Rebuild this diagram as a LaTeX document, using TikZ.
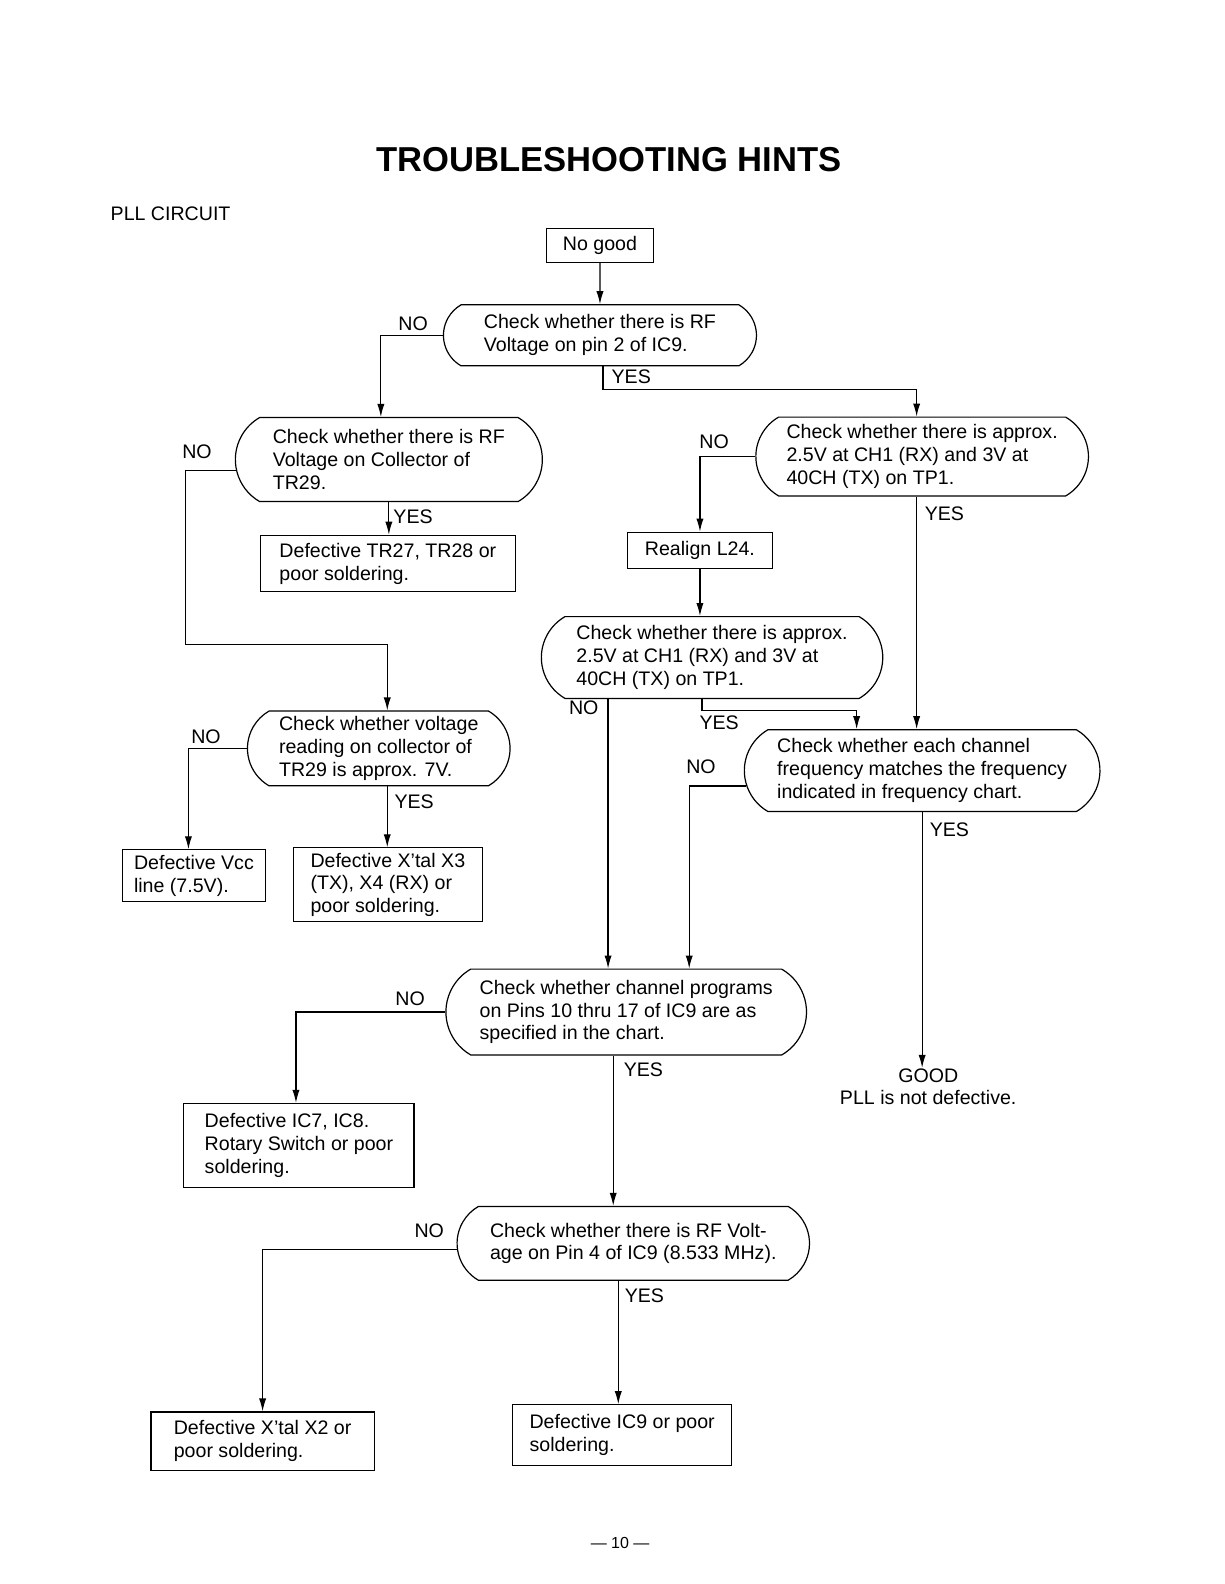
\documentclass[tikz,border=0pt]{standalone}
\usepackage{fontspec}
\setmainfont{Liberation Sans}
\usetikzlibrary{shapes.misc,arrows.meta,positioning}

\tikzset{
  check/.style={draw, rounded rectangle, rounded rectangle arc length=120, align=left, inner sep=2pt, font=\fontsize{9.8}{11.4}\selectfont},
  result/.style={draw, rectangle, align=left, inner sep=2pt, font=\fontsize{9.8}{11.4}\selectfont},
  flow/.style={-{Latex[length=6.5pt,width=3.6pt]}},
  lbl/.style={font=\fontsize{9.8}{11.4}\selectfont, inner sep=0pt}
}

\begin{document}
\begin{tikzpicture}[x=0.505pt, y=-0.505pt, line width=0.6pt]
    \useasboundingbox (0,0) rectangle (1212,1568.3);
    \node (title) at (603,158) {\fontsize{17.3}{20}\selectfont\bfseries TROUBLESHOOTING HINTS};
    \node[lbl, anchor=west] (sub) at (109,212) {PLL CIRCUIT};

    % Top
    \node[result, minimum width=53.5pt, minimum height=17pt] (nogood) at (594,243) {No good};
    \node[check, minimum width=160.5pt, minimum height=30.5pt] (rfic) at (594,332) {Check whether there is RF\\Voltage on pin 2 of IC9.};
    \draw[flow] (nogood) -- (rfic);

    % Left branch
    \node[check, minimum width=157.5pt, minimum height=42pt] (rfcol) at (385,455) {Check whether there is RF\\Voltage on Collector of\\TR29.};
    \node[result, minimum width=127.3pt, minimum height=28.3pt] (trbad) at (384,558) {Defective TR27, TR28 or\\poor soldering.};
    \node[check, minimum width=135.3pt, minimum height=37.4pt] (volt) at (375,741) {Check whether voltage\\reading on collector of\\TR29 is approx. 7V.};
    \node[result, minimum width=71.2pt, minimum height=25.8pt] (vccbad) at (192,867) {Defective Vcc\\line (7.5V).};
    \node[result, minimum width=94.4pt, minimum height=36.9pt] (xtal) at (384,876) {Defective X'tal X3\\(TX), X4 (RX) or\\poor soldering.};

    % Right branch
    \node[check, minimum width=170.3pt, minimum height=39.4pt] (tpone) at (913,452) {Check whether there is approx.\\2.5V at CH1 (RX) and 3V at\\40CH (TX) on TP1.};
    \node[result, minimum width=72.2pt, minimum height=18.2pt] (realign) at (693,545) {Realign L24.};
    \node[check, minimum width=174.7pt, minimum height=40.9pt] (tptwo) at (705,651) {Check whether there is approx.\\2.5V at CH1 (RX) and 3V at\\40CH (TX) on TP1.};
    \node[check, minimum width=181.8pt, minimum height=40.9pt] (freq) at (913,763) {Check whether each channel\\frequency matches the frequency\\indicated in frequency chart.};
    \node[lbl, align=center] (good) at (919,1076) {GOOD\\PLL is not defective.};

    % Bottom
    \node[check, minimum width=184.3pt, minimum height=42.9pt] (chan) at (620,1002) {Check whether channel programs\\on Pins 10 thru 17 of IC9 are as\\specified in the chart.};
    \node[result, minimum width=115.1pt, minimum height=41.9pt] (ic78bad) at (296,1134) {Defective IC7, IC8.\\Rotary Switch or poor\\soldering.};
    \node[check, minimum width=180.2pt, minimum height=36.9pt] (rfpin) at (627,1231) {Check whether there is RF Volt-\\age on Pin 4 of IC9 (8.533 MHz).};
    \node[result, minimum width=111.6pt, minimum height=29.3pt] (xtaltwo) at (260,1427) {Defective X'tal X2 or\\poor soldering.};
    \node[result, minimum width=109.5pt, minimum height=30.5pt] (ic9bad) at (616,1421) {Defective IC9 or poor\\soldering.};
    \node[lbl] (page) at (614,1528) {\fontsize{8}{10}\selectfont — 10 —};

    % helper points
    \coordinate (p1) at ([xshift=1.5pt]rfic.south);
    \coordinate (p2) at ([xshift=-2.75pt]tpone.south);
    \coordinate (p3) at ([xshift=-52pt]tptwo.south);
    \coordinate (p4) at ([xshift=-5pt]tptwo.south);
    \coordinate (p5) at ([xshift=4.25pt]volt.south);
    \coordinate (p6) at ([xshift=-6.5pt]chan.south);
    \coordinate (p7) at ([xshift=-7.5pt]rfpin.south);
    \coordinate (bend) at (184,638);

    % Connectors
    \draw[flow] (rfic.west) -| ([xshift=-4pt]rfcol.north);
    \draw[flow] (p1) -- ++(0,23) -| (p2 |- tpone.north);
    \draw[flow] (rfcol.184) -| (bend) -| ([xshift=4.25pt]volt.north);
    \draw[flow] (rfcol.south) -- (rfcol.south |- trbad.north);
    \draw[flow] (tpone.west) -| (realign.north);
    \draw[flow] (p2) -- (p2 |- freq.north);
    \draw[flow] (realign.south) -- (realign.south |- tptwo.north);
    \draw[flow] (p3) -- (p3 |- chan.north);
    \draw[flow] (p4) -- ++(0,11) -| ([xshift=-32.75pt]freq.north);
    \draw[flow] (volt.west) -| ([xshift=-2.75pt]vccbad.north);
    \draw[flow] (p5) -- (p5 |- xtal.north);
    \draw[flow] (freq.185) -| ([xshift=31.5pt]chan.north);
    \draw[flow] (freq.south) -- (freq.south |- good.north);
    \draw[flow] (chan.west) -| ([xshift=-1.5pt]ic78bad.north);
    \draw[flow] (p6) -- (p6 |- rfpin.north);
    \draw[flow] (rfpin.182) -| (xtaltwo.north);
    \draw[flow] (p7) -- (p7 |- ic9bad.north);

    % NO / YES labels
    \node[lbl] (no1) at (409,321) {NO};
    \node[lbl] (yes1) at (625,373) {YES};
    \node[lbl] (no2) at (195,447) {NO};
    \node[lbl] (yes2) at (409,512) {YES};
    \node[lbl] (no3) at (707,437) {NO};
    \node[lbl] (yes3) at (935,509) {YES};
    \node[lbl] (no4) at (578,701) {NO};
    \node[lbl] (yes4) at (712,716) {YES};
    \node[lbl] (no5) at (204,729) {NO};
    \node[lbl] (yes5) at (410,794) {YES};
    \node[lbl] (no6) at (694,759) {NO};
    \node[lbl] (yes6) at (940,822) {YES};
    \node[lbl] (no7) at (406,989) {NO};
    \node[lbl] (yes7) at (637,1059) {YES};
    \node[lbl] (no8) at (425,1219) {NO};
    \node[lbl] (yes8) at (638,1283) {YES};
\end{tikzpicture}
\end{document}
